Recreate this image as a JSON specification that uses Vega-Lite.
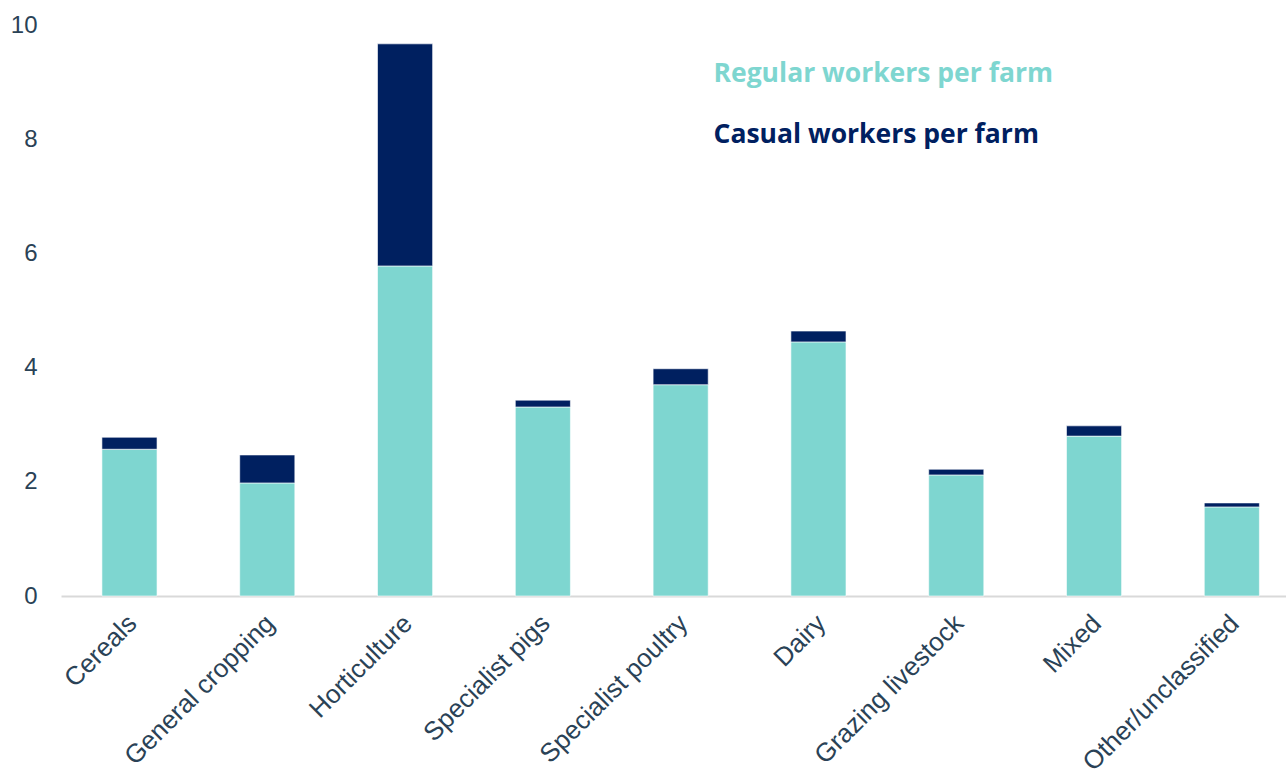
{
  "$schema": "https://vega.github.io/schema/vega-lite/v6.json",
  "width": 1225,
  "height": 571,
  "autosize": {"type": "none"},
  "padding": {"left": 61, "top": 25, "right": 0, "bottom": 177},
  "background": "white",
  "config": {"view": {"stroke": null}},
  "data": {
    "values": [
      {"type": "Cereals", "series": "Regular workers per farm", "value": 2.57},
      {"type": "Cereals", "series": "Casual workers per farm", "value": 0.21},
      {"type": "General cropping", "series": "Regular workers per farm", "value": 1.98},
      {"type": "General cropping", "series": "Casual workers per farm", "value": 0.49},
      {"type": "Horticulture", "series": "Regular workers per farm", "value": 5.78},
      {"type": "Horticulture", "series": "Casual workers per farm", "value": 3.89},
      {"type": "Specialist pigs", "series": "Regular workers per farm", "value": 3.31},
      {"type": "Specialist pigs", "series": "Casual workers per farm", "value": 0.12},
      {"type": "Specialist poultry", "series": "Regular workers per farm", "value": 3.70},
      {"type": "Specialist poultry", "series": "Casual workers per farm", "value": 0.28},
      {"type": "Dairy", "series": "Regular workers per farm", "value": 4.45},
      {"type": "Dairy", "series": "Casual workers per farm", "value": 0.19},
      {"type": "Grazing livestock", "series": "Regular workers per farm", "value": 2.12},
      {"type": "Grazing livestock", "series": "Casual workers per farm", "value": 0.10},
      {"type": "Mixed", "series": "Regular workers per farm", "value": 2.80},
      {"type": "Mixed", "series": "Casual workers per farm", "value": 0.18},
      {"type": "Other/unclassified", "series": "Regular workers per farm", "value": 1.56},
      {"type": "Other/unclassified", "series": "Casual workers per farm", "value": 0.07}
    ]
  },
  "mark": {"type": "bar", "stroke": "white", "strokeWidth": 0.6},
  "encoding": {
    "x": {
      "field": "type",
      "type": "nominal",
      "sort": null,
      "scale": {"paddingInner": 0.6, "paddingOuter": 0.245, "align": 0.606},
      "axis": {
        "title": null,
        "labelAngle": -45,
        "labelAlign": "right",
        "labelBaseline": "middle",
        "labelFont": "Liberation Sans",
        "labelFontSize": 26,
        "labelColor": "#2A4256",
        "labelPadding": 23,
        "labelOffset": 3,
        "labelLimit": 400,
        "labelOverlap": false,
        "ticks": false,
        "domainColor": "#D9D9D9",
        "domainWidth": 2
      }
    },
    "y": {
      "field": "value",
      "type": "quantitative",
      "scale": {"domain": [0, 10], "nice": false},
      "axis": {
        "title": null,
        "values": [0, 2, 4, 6, 8, 10],
        "grid": false,
        "domain": false,
        "ticks": false,
        "labelFont": "Liberation Sans",
        "labelFontSize": 24,
        "labelColor": "#2A4256",
        "labelPadding": 24
      }
    },
    "color": {
      "field": "series",
      "type": "nominal",
      "scale": {
        "domain": ["Regular workers per farm", "Casual workers per farm"],
        "range": ["#7ED6D0", "#002060"]
      },
      "legend": {
        "title": null,
        "orient": "none",
        "legendX": 622,
        "legendY": 36,
        "symbolSize": 0,
        "symbolOpacity": 0,
        "symbolStrokeWidth": 0,
        "labelFont": "Open Sans",
        "labelFontSize": 26.5,
        "labelFontWeight": "bold",
        "labelLimit": 600,
        "rowPadding": 34,
        "labelColor": {"expr": "datum.label == 'Regular workers per farm' ? '#7ED6D0' : '#002060'"}
      }
    },
    "order": {"field": "series", "sort": "descending"}
  }
}
